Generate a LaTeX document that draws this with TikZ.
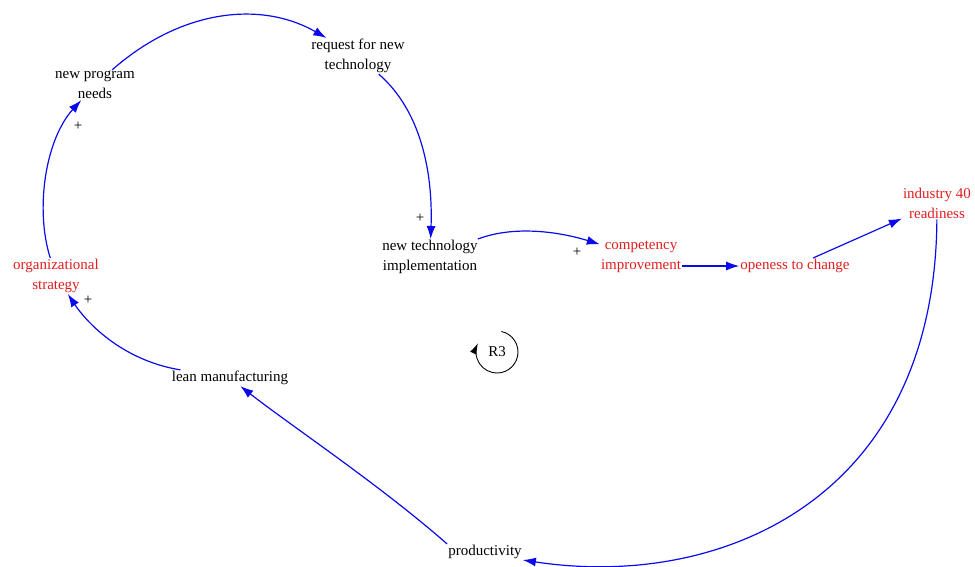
\documentclass[tikz,border=0pt]{standalone}
\usepackage{fontspec}
\setmainfont{Liberation Serif}
\usetikzlibrary{arrows.meta}

\definecolor{linkblue}{RGB}{10,10,235}
\definecolor{varred}{RGB}{225,30,30}

\begin{document}
\begin{tikzpicture}[x=1pt,y=1pt,
    var/.style={align=center, inner sep=1pt, font=\fontsize{15}{20}\selectfont},
    redvar/.style={var, text=varred},
    link/.style={linkblue, line width=1.2pt, -{Latex[length=13pt,width=9pt]}},
    sign/.style={inner sep=0pt, font=\fontsize{15}{15}\selectfont}]
  \useasboundingbox (0,0) rectangle (975,-566);

  %draw nodes
  \node[var] (needs) at (95,-85) {new program\\needs};
  \node[var] (request) at (358,-56) {request for new\\technology};
  \node[var] (implement) at (430,-257) {new technology\\implementation};
  \node[redvar] (competency) at (641,-257) {competency\\improvement};
  \node[redvar] (openess) at (795,-266) {openess to change};
  \node[redvar] (industry) at (937,-203) {industry 40\\readiness};
  \node[var] (productivity) at (485,-552) {productivity};
  \node[var] (lean) at (230,-378) {lean manufacturing};
  \node[redvar] (strategy) at (56,-276) {organizational\\strategy};

  %draw arrows
  \draw[link] (needs) .. controls (180,-10) and (260,0) .. (request);
  \draw[link] (request) .. controls (420,-110) and (433,-170) .. (implement);
  \draw[link] (implement) .. controls (515,-225) and (560,-232) .. (competency);
  \draw[link] (openess.west -| competency.east) -- (openess.west);
  \draw[link] (openess) -- (industry);
  \draw[link] (industry) .. controls (935,-500) and (720,-590) .. (productivity.south east);
  \draw[link] (productivity.north west) .. controls (380,-485) and (290,-425) .. (lean);
  \draw[link] (lean) .. controls (120,-360) and (85,-320) .. (strategy);
  \draw[link] (strategy) .. controls (35,-210) and (45,-140) .. (needs);

  %draw signs
  \node[sign] (s1) at (78,-126) {+};
  \node[sign] (s2) at (420,-218) {+};
  \node[sign] (s3) at (577,-252) {+};
  \node[sign] (s4) at (88,-300) {+};

  %draw loop
  \node[var] (r3) at (497,-352) {R3};
  \draw[line width=0.9pt, -{Latex[length=11pt,width=7pt]}]
    ([shift={(78:21)}]r3.center) arc[start angle=78, end angle=-205, radius=21];
\end{tikzpicture}
\end{document}
